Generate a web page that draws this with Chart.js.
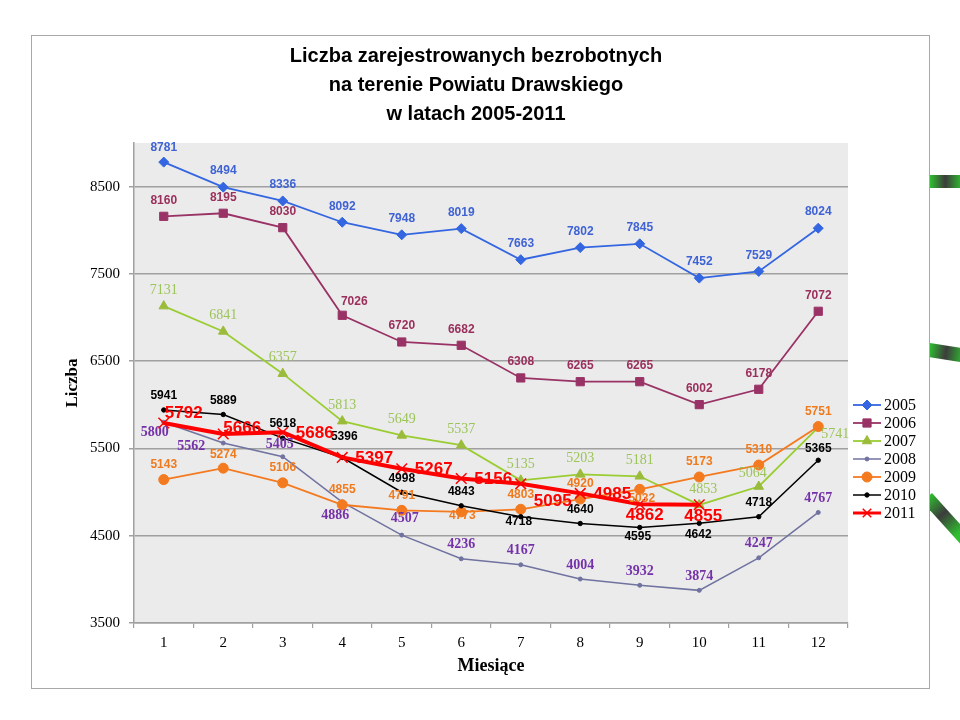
<!DOCTYPE html>
<html><head><meta charset="utf-8">
<script src="https://cdn.jsdelivr.net/npm/chart.js@4.4.1/dist/chart.umd.min.js"></script>
<style>
html,body{margin:0;padding:0;background:#fff;}
#wrap{position:relative;width:960px;height:720px;overflow:hidden;background:#fff;}
#frame{position:absolute;left:31px;top:35px;width:897px;height:652px;border:1px solid #a8a8a8;background:#fff;}
#deco{position:absolute;left:930px;top:0;width:30px;height:720px;overflow:hidden;}
.stripe{position:absolute;background:linear-gradient(90deg,#2fbf2f 0%,#3c3c3c 38%,#2fbf2f 80%);}
canvas{position:absolute;left:0;top:0;}
</style></head>
<body>
<div id="wrap">
  <div id="deco">
    <div class="stripe" style="left:0;top:175px;width:40px;height:13px;"></div>
    <div class="stripe" style="left:0;top:343px;width:45px;height:14px;transform:rotate(9deg);transform-origin:0 0;"></div>
    <div class="stripe" style="left:2px;top:493px;width:60px;height:13px;transform:rotate(48deg);transform-origin:0 0;"></div>
  </div>
  <div id="frame"></div>
  <canvas id="c" width="960" height="720"></canvas>
</div>
<script>
// ---- data ----
const months = ['1','2','3','4','5','6','7','8','9','10','11','12'];
const years = ['2005','2006','2007','2008','2009','2010','2011'];
const v2005 = [8781, 8494, 8336, 8092, 7948, 8019, 7663, 7802, 7845, 7452, 7529, 8024];
const v2006 = [8160, 8195, 8030, 7026, 6720, 6682, 6308, 6265, 6265, 6002, 6178, 7072];
const v2007 = [7131, 6841, 6357, 5813, 5649, 5537, 5135, 5203, 5181, 4853, 5064, 5741];
const v2008 = [5800, 5562, 5405, 4886, 4507, 4236, 4167, 4004, 3932, 3874, 4247, 4767];
const v2009 = [5143, 5274, 5106, 4855, 4791, 4773, 4803, 4920, 5032, 5173, 5310, 5751];
const v2010 = [5941, 5889, 5618, 5396, 4998, 4843, 4718, 4640, 4595, 4642, 4718, 5365];
const v2011 = [5792, 5666, 5686, 5397, 5267, 5156, 5095, 4985, 4862, 4855];
const yTicks = [3500, 4500, 5500, 6500, 7500, 8500];
const titleLines = ['Liczba zarejestrowanych bezrobotnych', 'na terenie Powiatu Drawskiego', 'w latach 2005-2011'];

// ---- styles ----
const SANS = '"Liberation Sans", Arial, sans-serif';
const SERIF = '"Liberation Serif", "Times New Roman", serif';
const styles = [
  {line:'#3366e0', fill:'#3366e0', pt:'rectRot', r:5, w:1.8, lab:'#3f63d4', font:'bold 12px '+SANS, dx:0, dy:-16, ov:{0:[0,-14]}},
  {line:'#993366', fill:'#993366', pt:'rect', r:5.8, w:1.8, lab:'#9a2f5c', font:'bold 12px '+SANS, dx:0, dy:-16, ov:{3:[12,-14]}},
  {line:'#9acd32', fill:'#9bbb3b', pt:'triangle', r:5.5, w:1.8, lab:'#9cc45a', font:'14px '+SERIF, dx:0, dy:-16, ov:{9:[4,-16],10:[-6,-13],11:[17,7]}},
  {line:'#7072a0', fill:'#7072a0', pt:'circle', r:2, w:1.5, lab:'#7432a8', font:'bold 14px '+SERIF, dx:0, dy:-14, ov:{0:[-9,10],1:[-32,3],2:[-3,-12],3:[-7,13],4:[3,-17]}},
  {line:'#f47a20', fill:'#f47a20', pt:'circle', r:5, w:1.8, lab:'#f07a1e', font:'bold 12px '+SANS, dx:0, dy:-15, ov:{1:[0,-13],5:[1,4],8:[2,9]}},
  {line:'#000000', fill:'#000000', pt:'circle', r:2.2, w:1.5, lab:'#000000', font:'bold 12px '+SANS, dx:0, dy:-14, ov:{3:[2,-21],6:[-2,5],8:[-2,9],9:[-1,11],11:[0,-12]}},
  {line:'#ff0000', fill:'#ff0000', pt:'crossRot', r:7.5, w:4, lab:'#ff0000', font:'bold 17px '+SANS, dx:32, dy:1, ov:{0:[20,-10],1:[19,-6],6:[32,18],8:[5,11],9:[4,12]}}
];
const seriesValues = [v2005, v2006, v2007, v2008, v2009, v2010, v2011];

const datasets = seriesValues.map((vals, i) => ({
  label: years[i],
  data: vals,
  borderColor: styles[i].line,
  backgroundColor: styles[i].fill,
  pointBackgroundColor: styles[i].fill,
  pointBorderColor: styles[i].pt === 'crossRot' ? styles[i].line : styles[i].fill,
  pointBorderWidth: styles[i].pt === 'crossRot' ? 1.5 : 1,
  borderWidth: styles[i].w,
  pointStyle: styles[i].pt,
  pointRadius: styles[i].r,
  pointHoverRadius: styles[i].r,
  tension: 0,
  fill: false,
  order: 6 - i
}));

const bgPlugin = {
  id: 'bg',
  beforeDraw(chart) {
    const {ctx, chartArea: a} = chart;
    ctx.save();
    ctx.fillStyle = '#ebebeb';
    ctx.fillRect(a.left, a.top, a.right - a.left, a.bottom - a.top);
    ctx.restore();
  }
};

const labelPlugin = {
  id: 'vlabels',
  afterDatasetsDraw(chart) {
    const ctx = chart.ctx;
    ctx.save();
    ctx.textAlign = 'center';
    ctx.textBaseline = 'middle';
    chart.data.datasets.forEach((ds, i) => {
      const meta = chart.getDatasetMeta(i);
      const st = styles[i];
      ctx.font = st.font;
      ctx.fillStyle = st.lab;
      meta.data.forEach((el, j) => {
        const o = st.ov[j] || [st.dx, st.dy];
        ctx.fillText(String(ds.data[j]), el.x + o[0], el.y + o[1]);
      });
    });
    ctx.restore();
  }
};

const textPlugin = {
  id: 'texts',
  afterDraw(chart) {
    const ctx = chart.ctx;
    ctx.save();
    // title
    ctx.fillStyle = '#000';
    ctx.font = 'bold 20px ' + SANS;
    ctx.textAlign = 'center';
    ctx.textBaseline = 'middle';
    titleLines.forEach((t, k) => ctx.fillText(t, 476, 56 + k * 29));
    // legend
    const x0 = 853, x1 = 881, y0 = 405, step = 18;
    chart.data.datasets.forEach((ds, i) => {
      const st = styles[i];
      const y = y0 + i * step;
      ctx.strokeStyle = st.line;
      ctx.lineWidth = Math.min(st.w, 3);
      ctx.beginPath(); ctx.moveTo(x0, y); ctx.lineTo(x1, y); ctx.stroke();
      ctx.fillStyle = st.fill;
      ctx.strokeStyle = st.pt === 'crossRot' ? st.line : st.fill;
      ctx.lineWidth = st.pt === 'crossRot' ? 1.5 : 1;
      Chart.helpers.drawPoint(ctx, {pointStyle: st.pt, rotation: 0, radius: Math.min(st.r, 6), borderWidth: ctx.lineWidth}, (x0 + x1) / 2, y);
      ctx.fillStyle = '#000';
      ctx.font = '16px ' + SERIF;
      ctx.textAlign = 'left';
      ctx.textBaseline = 'middle';
      ctx.fillText(ds.label, x1 + 3, y + 1);
    });
    ctx.restore();
  }
};

const chart = new Chart(document.getElementById('c'), {
  type: 'line',
  data: { labels: months, datasets },
  options: {
    responsive: false,
    animation: false,
    events: [],
    layout: { padding: { top: 143, right: 112, left: 58, bottom: 39 } },
    plugins: { legend: { display: false }, title: { display: false }, tooltip: { enabled: false } },
    scales: {
      x: {
        type: 'category',
        offset: true,
        grid: { display: true, drawOnChartArea: false, offset: true, color: '#a0a0a0', tickLength: 5, lineWidth: 1.2 },
        border: { display: true, color: '#a0a0a0', width: 1.5 },
        ticks: { color: '#000', font: { family: SERIF, size: 15 }, padding: 6, maxRotation: 0, autoSkip: false },
        title: { display: true, text: 'Miesiące', color: '#000', font: { family: SERIF, size: 18, weight: 'bold' } },
        afterFit(s) { s.height = 58; }
      },
      y: {
        min: 3500, max: 9000,
        afterBuildTicks(s) { s.ticks = yTicks.map(v => ({ value: v })); },
        grid: { color: '#a0a0a0', lineWidth: 1.5, tickLength: 5 },
        border: { display: true, color: '#a0a0a0', width: 1.5 },
        ticks: { color: '#000', font: { family: SERIF, size: 15 }, padding: 9, callback: v => String(v) },
        title: { display: true, text: 'Liczba', color: '#000', font: { family: SERIF, size: 17, weight: 'bold' } },
        afterFit(s) { s.width = 76; }
      }
    }
  },
  plugins: [bgPlugin, labelPlugin, textPlugin]
});
</script>
</body></html>
